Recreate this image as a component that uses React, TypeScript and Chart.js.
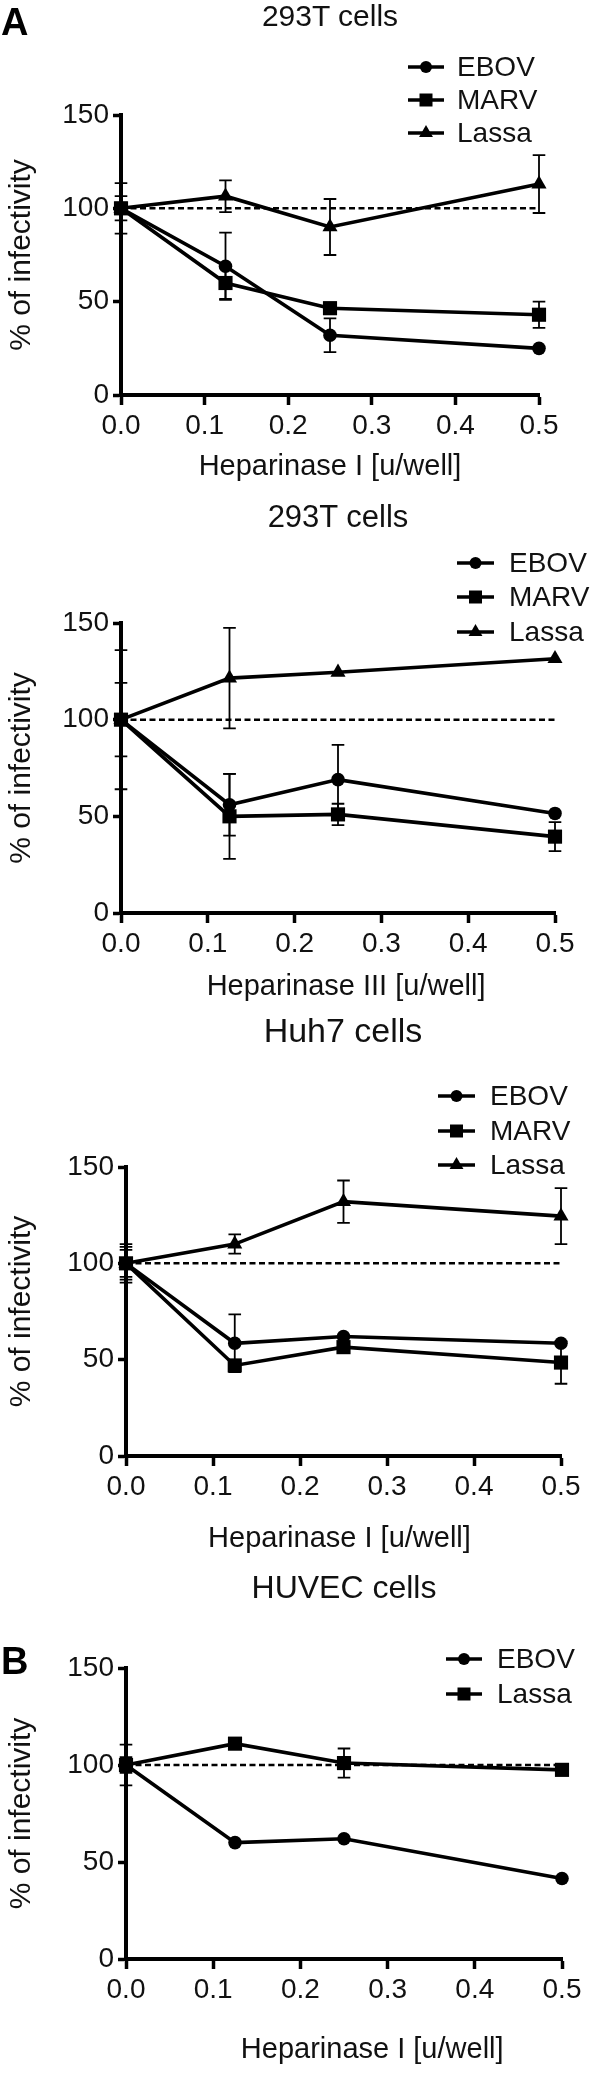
import React, { useEffect, useRef } from "react";
import { Chart, registerables } from "chart.js";

Chart.register(...registerables);

const FONT = "'Liberation Sans', Arial, Helvetica, sans-serif";
const INK = "#111";

// ---------------- data ----------------
const doses = [0, 0.125, 0.25, 0.5]; // Heparinase [u/well]
const refLineX = [0, 0.5];
const refLineY = [100, 100];
const xTickStep = 0.1;
const yTickStep = 50;
const yMax = 150;
const xMax = 0.5;

// A (1): 293T cells, Heparinase I
const a1Ebov = [100, 69, 32, 25];
const a1EbovErr = [6.5, 18, 9, 0];
const a1Marv = [100, 60, 46.5, 43];
const a1MarvErr = [3, 8.5, 3, 7];
const a1Lassa = [100, 106.5, 90, 113];
const a1LassaErr = [13.5, 8.5, 15, 15.5];

// A (2): 293T cells, Heparinase III
const a2Ebov = [100, 56, 69, 51.5];
const a2EbovErr = [19, 16, 18, 0];
const a2Marv = [100, 50, 51, 39.5];
const a2MarvErr = [36, 22, 5.5, 7.5];
const a2Lassa = [100, 121.5, 124.5, 131.5];
const a2LassaErr = [0, 26, 0, 0];

// A (3): Huh7 cells, Heparinase I
const a3Ebov = [100, 58.5, 62, 58.5];
const a3EbovErr = [7, 15, 0, 0];
const a3Marv = [100, 47, 56.5, 48.5];
const a3MarvErr = [10, 0, 0, 11];
const a3Lassa = [100, 110, 132, 124.5];
const a3LassaErr = [8.5, 5, 11, 14.5];

// B: HUVEC cells, Heparinase I
const bEbov = [100, 60, 62, 41.5];
const bEbovErr = [4, 0, 0, 0];
const bLassa = [100, 111, 101, 97.5];
const bLassaErr = [10.5, 0, 7.5, 0];

// ---------------- drawing helpers ----------------
type Marker = "circle" | "rect" | "triangle";
const pointRadius: Record<Marker, number> = { circle: 6.8, rect: 10, triangle: 8.7 };

function drawMarker(ctx: CanvasRenderingContext2D, style: Marker, x: number, y: number) {
  ctx.beginPath();
  if (style === "circle") {
    ctx.arc(x, y, 6, 0, Math.PI * 2);
  } else if (style === "rect") {
    ctx.rect(x - 6.5, y - 6.5, 13, 13);
  } else {
    const r = 8;
    ctx.moveTo(x, y - r);
    ctx.lineTo(x + r * Math.sin((2 * Math.PI) / 3), y - r * Math.cos((2 * Math.PI) / 3));
    ctx.lineTo(x + r * Math.sin((4 * Math.PI) / 3), y - r * Math.cos((4 * Math.PI) / 3));
    ctx.closePath();
  }
  ctx.fill();
}

const errorBarPlugin = {
  id: "errorBars",
  beforeDatasetsDraw(chart: any) {
    const { ctx, scales } = chart;
    const xs = scales.x;
    const ys = scales.y;
    ctx.save();
    ctx.strokeStyle = "#000";
    ctx.lineWidth = 1.8;
    chart.data.datasets.forEach((ds: any) => {
      if (!ds.errors) return;
      ds.data.forEach((pt: any, i: number) => {
        const e = ds.errors[i];
        if (!e) return;
        const px = xs.getPixelForValue(pt.x);
        const top = ys.getPixelForValue(pt.y + e);
        const bot = ys.getPixelForValue(pt.y - e);
        ctx.beginPath();
        ctx.moveTo(px, top);
        ctx.lineTo(px, bot);
        ctx.moveTo(px - 6.3, top);
        ctx.lineTo(px + 6.3, top);
        ctx.moveTo(px - 6.3, bot);
        ctx.lineTo(px + 6.3, bot);
        ctx.stroke();
      });
    });
    ctx.restore();
  },
};

const lineLegendPlugin = {
  id: "lineLegend",
  afterDraw(chart: any, _args: any, opts: any) {
    if (!opts || !opts.items) return;
    const { ctx } = chart;
    ctx.save();
    opts.items.forEach((it: any, i: number) => {
      const y = opts.ys[i];
      ctx.strokeStyle = "#000";
      ctx.lineWidth = 3.5;
      ctx.beginPath();
      ctx.moveTo(opts.x0, y);
      ctx.lineTo(opts.x1, y);
      ctx.stroke();
      ctx.fillStyle = "#000";
      drawMarker(ctx, it.style, (opts.x0 + opts.x1) / 2, y);
      ctx.fillStyle = INK;
      ctx.font = `${opts.fontSize}px ${FONT}`;
      ctx.textBaseline = "middle";
      ctx.textAlign = "left";
      ctx.fillText(it.label, opts.textX, y + 1);
    });
    ctx.restore();
  },
};

// ---------------- panel layout ----------------
type Series = { label: string; style: Marker; values: number[]; errors: number[] };
type PanelCfg = {
  top: number;
  height: number;
  area: { left: number; right: number; top: number; bottom: number };
  title: string;
  titleX: number;
  titleY: number;
  titleSize: number;
  letter?: string;
  letterY?: number;
  xTitle: string;
  xTitleY: number;
  xTitleShift: number;
  legendYs: number[];
  legendX0: number;
  legendX1: number;
  legendTextX: number;
  series: Series[];
};

const panels: PanelCfg[] = [
  {
    top: 0, height: 500,
    area: { left: 121, right: 539, top: 115, bottom: 395 },
    title: "293T cells", titleX: 330, titleY: 16, titleSize: 30,
    letter: "A", letterY: 22,
    xTitle: "Heparinase I [u/well]", xTitleY: 467, xTitleShift: 0,
    legendYs: [67, 100, 133], legendX0: 408, legendX1: 444, legendTextX: 457,
    series: [
      { label: "EBOV", style: "circle", values: a1Ebov, errors: a1EbovErr },
      { label: "MARV", style: "rect", values: a1Marv, errors: a1MarvErr },
      { label: "Lassa", style: "triangle", values: a1Lassa, errors: a1LassaErr },
    ],
  },
  {
    top: 495, height: 515,
    area: { left: 121, right: 555, top: 623, bottom: 913 },
    title: "293T cells", titleX: 338, titleY: 516, titleSize: 31,
    xTitle: "Heparinase III [u/well]", xTitleY: 987, xTitleShift: 2,
    legendYs: [563, 597, 632], legendX0: 457, legendX1: 494, legendTextX: 509,
    series: [
      { label: "EBOV", style: "circle", values: a2Ebov, errors: a2EbovErr },
      { label: "MARV", style: "rect", values: a2Marv, errors: a2MarvErr },
      { label: "Lassa", style: "triangle", values: a2Lassa, errors: a2LassaErr },
    ],
  },
  {
    top: 1000, height: 570,
    area: { left: 126, right: 561, top: 1167, bottom: 1456 },
    title: "Huh7 cells", titleX: 343, titleY: 1030, titleSize: 34,
    xTitle: "Heparinase I [u/well]", xTitleY: 1539, xTitleShift: -1,
    legendYs: [1096, 1131, 1165], legendX0: 438, legendX1: 475, legendTextX: 490,
    series: [
      { label: "EBOV", style: "circle", values: a3Ebov, errors: a3EbovErr },
      { label: "MARV", style: "rect", values: a3Marv, errors: a3MarvErr },
      { label: "Lassa", style: "triangle", values: a3Lassa, errors: a3LassaErr },
    ],
  },
  {
    top: 1560, height: 518,
    area: { left: 126, right: 562, top: 1668, bottom: 1959 },
    title: "HUVEC cells", titleX: 344, titleY: 1587, titleSize: 32,
    letter: "B", letterY: 1661,
    xTitle: "Heparinase I [u/well]", xTitleY: 2050, xTitleShift: 7,
    legendYs: [1659, 1694], legendX0: 446, legendX1: 482, legendTextX: 497,
    series: [
      { label: "EBOV", style: "circle", values: bEbov, errors: bEbovErr },
      { label: "Lassa", style: "rect", values: bLassa, errors: bLassaErr },
    ],
  },
];

const TICK_SIZE = 28;
const XTITLE_SIZE = 29;
const YTITLE_SIZE = 30;
const LEGEND_SIZE = 28;

function buildConfig(p: PanelCfg): any {
  const lh = XTITLE_SIZE * 1.2;
  const canvasBottom = p.top + p.height;
  const padBottom = canvasBottom - p.xTitleY - lh / 2;
  const pad = "\u00a0".repeat(Math.abs(p.xTitleShift));
  const xTitleText = p.xTitleShift >= 0 ? pad + p.xTitle : p.xTitle + pad;

  const datasets: any[] = [
    {
      label: "100%",
      data: refLineX.map((x, i) => ({ x, y: refLineY[i] })),
      borderColor: "#000",
      borderWidth: 2.5,
      borderDash: [6, 3.5],
      pointRadius: 0,
      clip: false,
      order: 10,
    },
    ...p.series.map((s) => ({
      label: s.label,
      data: doses.map((x, i) => ({ x, y: s.values[i] })),
      errors: s.errors,
      borderColor: "#000",
      backgroundColor: "#000",
      borderWidth: 3.6,
      tension: 0,
      pointStyle: s.style,
      pointRadius: pointRadius[s.style],
      pointBackgroundColor: "#000",
      pointBorderColor: "#000",
      pointBorderWidth: 0,
      clip: false,
    })),
  ];

  return {
    type: "line",
    data: { datasets },
    plugins: [errorBarPlugin, lineLegendPlugin],
    options: {
      responsive: false,
      animation: false,
      devicePixelRatio: 1,
      events: [],
      layout: {
        padding: {
          top: p.area.top - p.top,
          right: 600 - p.area.right,
          bottom: 0,
          left: 0,
        },
      },
      plugins: {
        legend: { display: false },
        tooltip: { enabled: false },
        title: { display: false },
        lineLegend: {
          items: p.series.map((s) => ({ label: s.label, style: s.style })),
          ys: p.legendYs.map((y) => y - p.top),
          x0: p.legendX0,
          x1: p.legendX1,
          textX: p.legendTextX,
          fontSize: LEGEND_SIZE,
        },
      },
      scales: {
        x: {
          type: "linear",
          min: 0,
          max: xMax,
          border: { display: true, color: "#000", width: 4 },
          grid: {
            display: true,
            drawOnChartArea: false,
            drawTicks: true,
            tickLength: 10,
            tickWidth: 3.5,
            tickColor: "#000",
            color: "#000",
          },
          ticks: {
            stepSize: xTickStep,
            autoSkip: false,
            maxRotation: 0,
            padding: 4,
            color: INK,
            font: { family: FONT, size: TICK_SIZE },
            callback: (v: any) => Number(v).toFixed(1),
          },
          title: {
            display: true,
            text: xTitleText,
            color: INK,
            font: { family: FONT, size: XTITLE_SIZE },
            padding: { top: 0, bottom: padBottom },
          },
          afterFit: (s: any) => {
            s.height = canvasBottom - p.area.bottom;
          },
        },
        y: {
          type: "linear",
          min: 0,
          max: yMax,
          border: { display: true, color: "#000", width: 4 },
          grid: {
            display: true,
            drawOnChartArea: false,
            drawTicks: true,
            tickLength: 8,
            tickWidth: 3.5,
            tickColor: "#000",
            color: "#000",
          },
          ticks: {
            stepSize: yTickStep,
            padding: 4,
            color: INK,
            font: { family: FONT, size: TICK_SIZE },
          },
          title: {
            display: true,
            text: "% of infectivity",
            color: INK,
            font: { family: FONT, size: YTITLE_SIZE },
            padding: { top: 4, bottom: 0 },
          },
          afterFit: (s: any) => {
            s.width = p.area.left;
          },
        },
      },
    },
  };
}

function Panel({ cfg }: { cfg: PanelCfg }) {
  const ref = useRef<HTMLCanvasElement>(null);
  useEffect(() => {
    if (!ref.current) return;
    const chart = new Chart(ref.current, buildConfig(cfg));
    return () => chart.destroy();
  }, [cfg]);
  return (
    <>
      <canvas
        ref={ref}
        width={600}
        height={cfg.height}
        style={{ position: "absolute", left: 0, top: cfg.top, width: 600, height: cfg.height }}
      />
      <div
        style={{
          position: "absolute",
          left: cfg.titleX,
          top: cfg.titleY - cfg.titleSize / 2,
          transform: "translateX(-50%)",
          fontFamily: FONT,
          fontSize: cfg.titleSize,
          lineHeight: 1,
          whiteSpace: "nowrap",
          color: INK,
        }}
      >
        {cfg.title}
      </div>
      {cfg.letter ? (
        <div
          style={{
            position: "absolute",
            left: 1,
            top: (cfg.letterY || 0) - 19,
            fontFamily: FONT,
            fontWeight: "bold",
            fontSize: 38,
            lineHeight: 1,
            color: "#000",
          }}
        >
          {cfg.letter}
        </div>
      ) : null}
    </>
  );
}

export default function App() {
  return (
    <div
      style={{
        position: "absolute",
        left: 0,
        top: 0,
        width: 600,
        height: 2078,
        background: "#fff",
        overflow: "hidden",
      }}
    >
      {panels.map((p, i) => (
        <Panel key={i} cfg={p} />
      ))}
    </div>
  );
}
